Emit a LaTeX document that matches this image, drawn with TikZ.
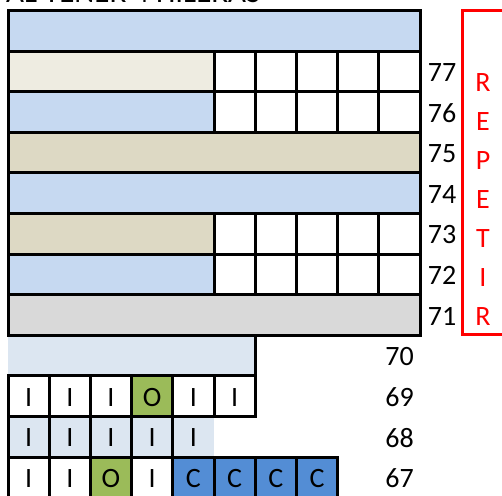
\documentclass[tikz,border=0pt]{standalone}
\usepackage{fontspec}
\setmainfont{Carlito}
\usetikzlibrary{calc}
\definecolor{bluerow}{HTML}{C6D9F1}
\definecolor{beigel}{HTML}{EEECE1}
\definecolor{tanrow}{HTML}{DDD9C4}
\definecolor{grayrow}{HTML}{D9D9D9}
\definecolor{paleblue}{HTML}{DCE6F1}
\definecolor{greencell}{HTML}{9BBB59}
\definecolor{cblue}{HTML}{538DD5}
\definecolor{redbox}{HTML}{FF0000}
\begin{document}
\begin{tikzpicture}[x=1pt,y=-1pt,
  gridline/.style={line width=3pt, line cap=rect},
  lbl/.style={font=\fontsize{28}{28}\selectfont, inner sep=0pt},
  redlbl/.style={lbl, text=redbox}]
\useasboundingbox (0,0) rectangle (502,495);
\clip (0,0) rectangle (502,495);
\foreach \i in {0,...,10}{\foreach \j in {0,...,12}{\coordinate (g-\i-\j) at ({8+41.2*\i},{10.5+40.6*\j});}}
% title (cut off at top)
\node[lbl, font=\fontsize{31}{31}\selectfont, anchor=base west] (title) at (6,2.2) {AL TENER 4 HILERAS};
% fills
\fill[bluerow] (g-0-0) rectangle (g-10-1);
\fill[beigel] (g-0-1) rectangle (g-5-2);
\fill[bluerow] (g-0-2) rectangle (g-5-3);
\fill[tanrow] (g-0-3) rectangle (g-10-4);
\fill[bluerow] (g-0-4) rectangle (g-10-5);
\fill[tanrow] (g-0-5) rectangle (g-5-6);
\fill[bluerow] (g-0-6) rectangle (g-5-7);
\fill[grayrow] (g-0-7) rectangle (g-10-8);
\fill[paleblue] (g-0-8) rectangle (g-6-9);
\fill[paleblue] (g-0-10) rectangle (g-5-11);
\fill[greencell] (g-3-9) rectangle (g-4-10);
\fill[greencell] (g-2-11) rectangle (g-3-12);
\fill[cblue] (g-4-11) rectangle (g-8-12);
% grid lines
\foreach \j in {0,...,8} \draw[gridline] (g-0-\j) -- (g-10-\j);
\draw[gridline] (g-0-0) -- (g-0-8);
\draw[gridline] (g-10-0) -- (g-10-8);
\foreach \i in {5,...,9} {\draw[gridline] (g-\i-1) -- (g-\i-3); \draw[gridline] (g-\i-5) -- (g-\i-7);}
\draw[gridline] (g-6-8) -- (g-6-10);
\draw[gridline] (g-0-9) -- (g-6-9);
\draw[gridline] (g-0-10) -- (g-6-10);
\foreach \i in {0,...,5} \draw[gridline] (g-\i-9) -- (g-\i-10);
\foreach \i in {0,...,4} \draw[gridline] (g-\i-10) -- (g-\i-11);
\draw[gridline] (g-0-11) -- (g-8-11);
\foreach \i in {0,...,8} \draw[gridline] (g-\i-11) -- (g-\i-12);
% cell letters
\foreach \t [count=\k from 0] in {I,I,I,O,I,I}
  \node[lbl] (r69-\k) at ({8+41.2*(\k+0.5)},{10.5+40.6*9.5+1}) {\t};
\foreach \t [count=\k from 0] in {I,I,I,I,I}
  \node[lbl] (r68-\k) at ({8+41.2*(\k+0.5)},{10.5+40.6*10.5+1}) {\t};
\foreach \t [count=\k from 0] in {I,I,O,I,C,C,C,C}
  \node[lbl] (r67-\k) at ({8+41.2*(\k+0.5)},{10.5+40.6*11.5+1}) {\t};
% row numbers
\foreach \n [count=\k from 1] in {77,76,75,74,73,72,71}
  \node[lbl] (n\n) at (442,{10.5+40.6*(\k+0.5)+1}) {\n};
\foreach \n [count=\k from 8] in {70,69,68,67}
  \node[lbl] (n\n) at (399.5,{10.5+40.6*(\k+0.5)+1}) {\n};
% repeat box
\coordinate (rb1) at (510,11);
\coordinate (rb2) at (462,11);
\coordinate (rb3) at (462,334);
\coordinate (rb4) at (510,334);
\draw[redbox, line width=3pt] (rb1) -- (rb2) -- (rb3) -- (rb4);
\foreach \t [count=\k from 0] in {R,E,P,E,T,I,R}
  \node[redlbl] (rep\k) at (483,{83+39*\k}) {\t};
\end{tikzpicture}
\end{document}
